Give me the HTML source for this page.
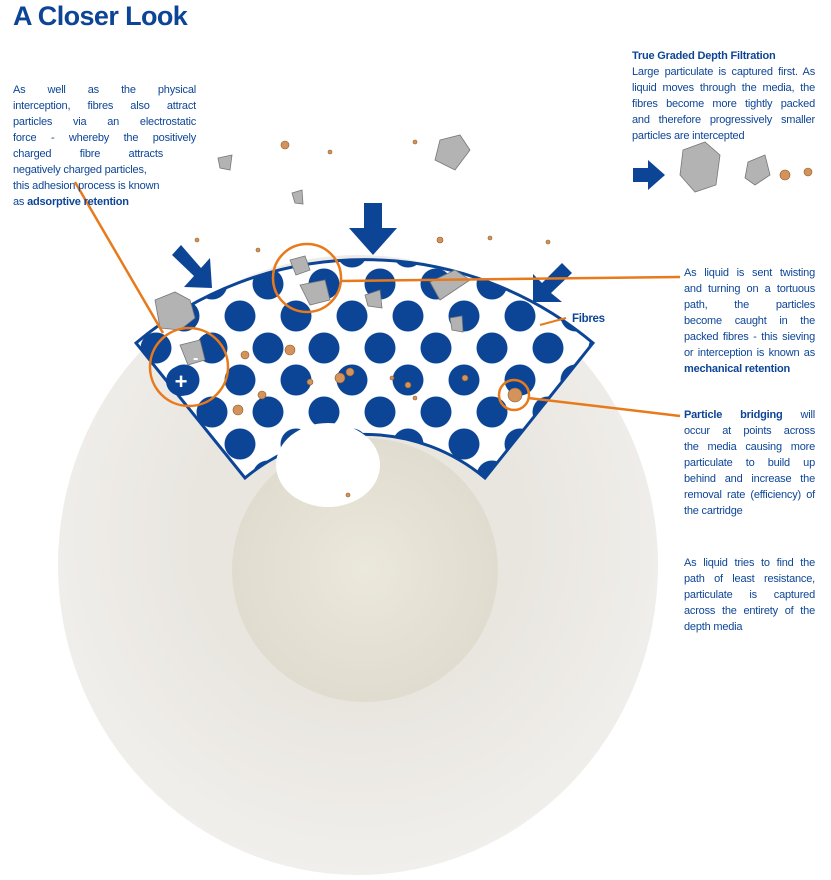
<!DOCTYPE html>
<html><head><meta charset="utf-8"><style>
body{margin:0;width:831px;height:880px;background:#fff;position:relative;overflow:hidden;font-family:"Liberation Sans",sans-serif;color:#0d4596}
.t{position:absolute;font-size:11px;line-height:16px;letter-spacing:-0.2px}
.t div{text-align:justify;text-align-last:justify;white-space:nowrap}
.t div.l{text-align-last:left}
h1{position:absolute;left:13px;top:1px;margin:0;font:bold 27px "Liberation Sans",sans-serif;color:#0d4596;letter-spacing:-0.6px}
svg{position:absolute;left:0;top:0}
</style></head><body>
<svg width="831" height="880" viewBox="0 0 831 880">
<defs>
<radialGradient id="ring" cx="0.5" cy="0.45" r="0.55"><stop offset="0.5" stop-color="#e9e6e0"/><stop offset="1" stop-color="#f1efec"/></radialGradient>
<radialGradient id="hole" cx="0.5" cy="0.5" r="0.5"><stop offset="0" stop-color="#ebe8dc"/><stop offset="1" stop-color="#e0dccf"/></radialGradient>
<pattern id="fib" width="56" height="64" patternUnits="userSpaceOnUse" x="128" y="252">
<circle cx="0" cy="0" r="15.5" fill="#0d4596"/><circle cx="56" cy="0" r="15.5" fill="#0d4596"/><circle cx="0" cy="64" r="15.5" fill="#0d4596"/><circle cx="56" cy="64" r="15.5" fill="#0d4596"/><circle cx="28" cy="32" r="15.5" fill="#0d4596"/></pattern>
</defs>
<ellipse cx="358" cy="565" rx="300" ry="310" fill="url(#ring)"/>
<ellipse cx="365" cy="570" rx="133" ry="132" fill="url(#hole)"/>
<path d="M136 343 A355 355 0 0 1 593 343 L485 478 A187 187 0 0 0 245 478 Z" fill="#fff"/>
<path d="M136 343 A355 355 0 0 1 593 343 L485 478 A187 187 0 0 0 245 478 Z" fill="url(#fib)"/>
<path d="M136 343 A355 355 0 0 1 593 343 L485 478 A187 187 0 0 0 245 478 Z" fill="none" stroke="#0d4596" stroke-width="3"/>
<ellipse cx="328" cy="465" rx="52" ry="42" fill="#fff"/>
<g fill="#b3b3b3" stroke="#777" stroke-width="0.8">
<path d="M155 300 L175 292 L190 300 L195 318 L180 330 L160 328 Z"/>
<path d="M290 260 L305 256 L310 270 L296 275 Z"/>
<path d="M300 285 L325 280 L330 300 L310 305 Z"/>
<path d="M430 282 L455 270 L470 280 L440 300 Z"/>
<path d="M440 140 L460 135 L470 150 L455 170 L435 160 Z"/>
<path d="M218 158 L232 155 L230 170 L220 168 Z"/>
<path d="M292 193 L302 190 L303 204 L295 203 Z"/>
<path d="M180 345 L200 340 L205 360 L188 365 Z"/>
<path d="M365 295 L380 290 L382 308 L368 306 Z"/>
<path d="M450 318 L462 316 L463 332 L452 330 Z"/>
<path d="M683 150 L705 142 L720 155 L716 185 L695 192 L680 175 Z"/>
<path d="M748 162 L765 155 L770 175 L755 185 L745 178 Z"/>
</g>
<g fill="#d4935a" stroke="#8a5a2a" stroke-width="0.6">
<circle cx="285" cy="145" r="4"/><circle cx="330" cy="152" r="2"/><circle cx="415" cy="142" r="2"/><circle cx="440" cy="240" r="3"/>
<circle cx="490" cy="238" r="2"/><circle cx="548" cy="242" r="2"/><circle cx="197" cy="240" r="2"/><circle cx="258" cy="250" r="2"/>
<circle cx="245" cy="355" r="4"/><circle cx="290" cy="350" r="5"/><circle cx="340" cy="378" r="5"/><circle cx="350" cy="372" r="4"/>
<circle cx="310" cy="382" r="3"/><circle cx="262" cy="395" r="4"/><circle cx="238" cy="410" r="5"/><circle cx="515" cy="395" r="7"/>
<circle cx="408" cy="385" r="3"/><circle cx="465" cy="378" r="3"/><circle cx="785" cy="175" r="5"/><circle cx="808" cy="172" r="4"/>
<circle cx="415" cy="398" r="2"/><circle cx="392" cy="378" r="2"/><circle cx="348" cy="495" r="2"/>
</g>
<g fill="#0d4596">
<path d="M364 203 H382 V228 H397 L373 255 L349 228 H364 Z"/>
<path d="M181 245 L172 255 L194 276 L184 287 L212 288 L210 258 L201 268 Z"/>
<path d="M562 263 L572 273 L551 293 L562 302 L533 302 L533 274 L542 283 Z"/>
<path d="M633 168 H648 V160 L665 175 L648 190 V182 H633 Z"/>
<circle cx="181" cy="381" r="15"/>
</g>
<text x="181" y="389" fill="#fff" font-size="22" font-weight="bold" text-anchor="middle" font-family="Liberation Sans">+</text>
<text x="193" y="363" fill="#fff" font-size="16" font-weight="bold" font-family="Liberation Sans">-</text>
<g fill="none" stroke="#e87a1c" stroke-width="2.5">
<circle cx="307" cy="278" r="34"/><circle cx="189" cy="367" r="39"/><circle cx="514" cy="395" r="15"/>
<path d="M75 182 L163 333"/><path d="M341 281 L680 277"/><path d="M528 398 L680 416"/>
<path d="M540 325 L566 318" stroke-width="2"/>
</g>
<text x="572" y="322" font-size="11.5" font-weight="bold" fill="#0d4596" font-family="Liberation Sans" letter-spacing="-0.3">Fibres</text>
</svg>
<h1>A Closer Look</h1>
<div class="t" style="left:13px;top:82px;width:183px">
<div>As well as the physical</div><div>interception, fibres also attract</div><div>particles via an electrostatic</div><div>force - whereby the positively</div><div style="width:150px">charged fibre attracts</div><div class="l">negatively charged particles,</div><div class="l">this adhesion process is known</div><div class="l">as <b>adsorptive retention</b></div></div>
<div class="t" style="left:632px;top:48px;width:183px">
<div class="l"><b>True Graded Depth Filtration</b></div><div>Large particulate is captured first. As</div><div>liquid moves through the media, the</div><div>fibres become more tightly packed</div><div>and therefore progressively smaller</div><div class="l">particles are intercepted</div></div>
<div class="t" style="left:684px;top:265px;width:131px">
<div>As liquid is sent twisting</div><div>and turning on a tortuous</div><div>path, the particles</div><div>become caught in the</div><div>packed fibres - this sieving</div><div>or interception is known as</div><div class="l"><b>mechanical retention</b></div></div>
<div class="t" style="left:684px;top:407px;width:131px">
<div><b>Particle bridging</b> will</div><div>occur at points across</div><div>the media causing more</div><div>particulate to build up</div><div>behind and increase the</div><div>removal rate (efficiency) of</div><div class="l">the cartridge</div></div>
<div class="t" style="left:684px;top:555px;width:131px">
<div>As liquid tries to find the</div><div>path of least resistance,</div><div>particulate is captured</div><div>across the entirety of the</div><div class="l">depth media</div></div>
</body></html>
